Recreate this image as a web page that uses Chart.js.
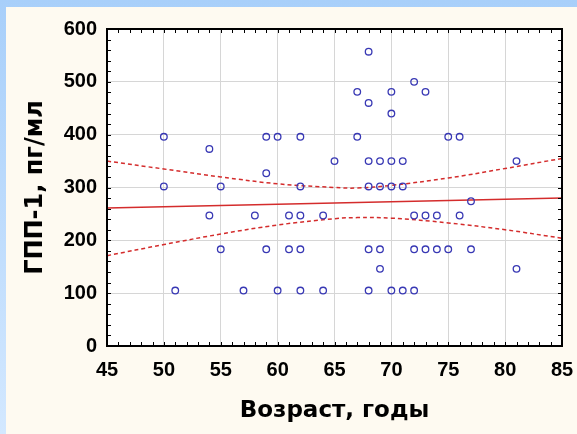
<!DOCTYPE html>
<html>
<head>
<meta charset="utf-8">
<style>
  html, body { margin: 0; padding: 0; }
  body { width: 577px; height: 434px; background: linear-gradient(to bottom, #a8cffa, #d3e8ff); position: relative; overflow: hidden; }
  #panel { position: absolute; left: 6px; top: 7px; width: 571px; height: 427px; background: #fefaf1; }
</style>
</head>
<body>
<div id="panel">
  <canvas id="glpChart" width="571" height="427"></canvas>
</div>

<script src="https://cdn.jsdelivr.net/npm/chart.js"></script>
<script>
// age (years) and GLP-1 (pg/ml) for each patient
const ages = [50, 50, 51, 54, 54, 55, 55, 57, 58, 59, 59, 59, 60, 60, 61, 61, 62, 62, 62, 62, 62, 64, 64, 65,
              67, 67, 68, 68, 68, 68, 68, 68, 69, 69, 69, 69, 70, 70, 70, 70, 70, 71, 71, 71,
              72, 72, 72, 72, 73, 73, 73, 74, 74, 75, 75, 76, 76, 77, 77, 81, 81];
const glp1 = [396, 302, 105, 373, 247, 302, 183, 105, 247, 396, 327, 183, 396, 105, 247, 183, 396, 302, 247, 183, 105, 247, 105, 350,
              481, 396, 557, 460, 350, 302, 183, 105, 350, 302, 183, 146, 481, 440, 350, 302, 105, 350, 302, 105,
              500, 247, 183, 105, 481, 247, 183, 247, 183, 396, 183, 396, 247, 274, 183, 350, 146];

// regression line and 95% band
const fitX = [45, 85];
const fitY = [261, 280];
const bandX = [45, 50, 55, 60, 65, 67, 70, 75, 80, 85];
const upperBand = [350, 335, 320, 307, 300, 299, 304, 318, 336, 355];
const lowerBand = [171, 192, 212, 229, 241, 243, 242, 233, 220, 204];

const xTicks = [45, 50, 55, 60, 65, 70, 75, 80, 85];
const yTicks = [0, 100, 200, 300, 400, 500, 600];

const pts = (xs, ys) => xs.map((x, i) => ({ x: x, y: ys[i] }));

const red = '#d42c2c';
const tickFont = { family: 'Liberation Sans', size: 20, weight: 'bold' };

// white plot area, frame and the small inward ticks on all four sides
const frame = {
  id: 'frame',
  beforeDraw(chart) {
    const a = chart.chartArea, ctx = chart.ctx;
    ctx.save();
    ctx.fillStyle = '#ffffff';
    ctx.fillRect(a.left, a.top, a.right - a.left, a.bottom - a.top);
    ctx.restore();
  },
  afterDraw(chart) {
    const a = chart.chartArea, ctx = chart.ctx;
    const xs = chart.scales.x, ys = chart.scales.y;
    ctx.save();
    ctx.strokeStyle = '#000';
    ctx.lineWidth = 1;
    ctx.beginPath();
    for (let v = 46; v < 85; v++) {
      const px = Math.round(xs.getPixelForValue(v)) + 0.5;
      ctx.moveTo(px, a.bottom); ctx.lineTo(px, a.bottom - 4);
      ctx.moveTo(px, a.top); ctx.lineTo(px, a.top + 4);
    }
    for (let v = 20; v < 600; v += 20) {
      const py = Math.round(ys.getPixelForValue(v)) + 0.5;
      ctx.moveTo(a.left, py); ctx.lineTo(a.left + 4, py);
      ctx.moveTo(a.right, py); ctx.lineTo(a.right - 4, py);
    }
    ctx.stroke();
    ctx.lineWidth = 2;
    ctx.strokeRect(a.left, a.top, a.right - a.left, a.bottom - a.top);
    ctx.restore();
  }
};

new Chart(document.getElementById('glpChart'), {
  type: 'scatter',
  data: {
    datasets: [
      {
        data: pts(ages, glp1),
        pointStyle: 'circle',
        pointRadius: 3.3,
        pointBorderWidth: 1.3,
        pointBorderColor: '#3838b4',
        pointBackgroundColor: 'rgba(255,255,255,0)',
        showLine: false
      },
      {
        type: 'line',
        data: pts(fitX, fitY),
        borderColor: red,
        borderWidth: 1.5,
        pointRadius: 0
      },
      {
        type: 'line',
        data: pts(bandX, upperBand),
        borderColor: red,
        borderWidth: 1.5,
        borderDash: [4, 3],
        tension: 0.4,
        pointRadius: 0
      },
      {
        type: 'line',
        data: pts(bandX, lowerBand),
        borderColor: red,
        borderWidth: 1.5,
        borderDash: [4, 3],
        tension: 0.4,
        pointRadius: 0
      }
    ]
  },
  options: {
    responsive: false,
    animation: false,
    clip: false,
    layout: { padding: { top: 22, right: 15, left: 0, bottom: 0 } },
    plugins: { legend: { display: false }, tooltip: { enabled: false } },
    scales: {
      x: {
        type: 'linear',
        min: 45, max: 85,
        afterBuildTicks: s => { s.ticks = xTicks.map(v => ({ value: v })); },
        afterFit: s => { s.height = 88; s.paddingLeft = 0; s.paddingRight = 0; },
        grid: { color: '#d6d6d6', lineWidth: 1, drawTicks: false },
        border: { display: false },
        ticks: { color: '#000', font: tickFont, padding: 12, maxRotation: 0 },
        title: {
          display: true,
          text: 'Возраст, годы',
          color: '#000',
          font: { family: 'DejaVu Sans', size: 23, weight: 'bold' },
          padding: { top: 0, bottom: 9 }
        }
      },
      y: {
        type: 'linear',
        min: 0, max: 600,
        afterBuildTicks: s => { s.ticks = yTicks.map(v => ({ value: v })); },
        afterFit: s => { s.width = 101; },
        grid: { color: '#d6d6d6', lineWidth: 1, drawTicks: false },
        border: { display: false },
        ticks: { color: '#000', font: tickFont, padding: 10 },
        title: {
          display: true,
          text: 'ГПП-1, пг/мл',
          color: '#000',
          font: { family: 'DejaVu Sans', size: 24, weight: 'bold' },
          padding: { top: 15, bottom: 0 }
        }
      }
    }
  },
  plugins: [frame]
});
</script>
</body>
</html>
